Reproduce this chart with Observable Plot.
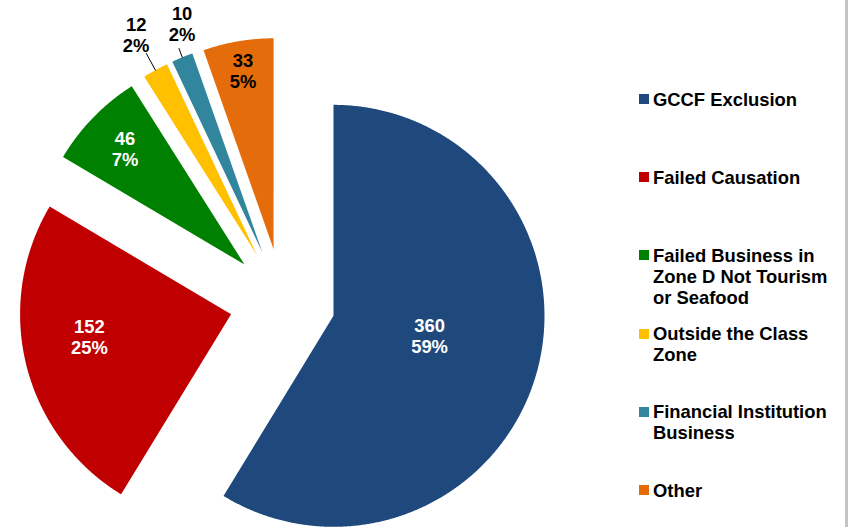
<!DOCTYPE html>
<html>
<head>
<meta charset="utf-8">
<script src="https://cdn.jsdelivr.net/npm/d3@7"></script>
<script src="https://cdn.jsdelivr.net/npm/@observablehq/plot@0.6"></script>
<style>
  html, body { margin: 0; padding: 0; background: #fff; }
  #wrap { position: relative; width: 849px; height: 527px; overflow: hidden; font-family: "Liberation Sans", Arial, sans-serif; }
  #legend { position: absolute; left: 639px; top: 0; }
  .item { position: absolute; left: 0; width: 205px; }
  .sw { position: absolute; left: 0; width: 10px; height: 10px; }
  .lab { position: absolute; left: 14px; width: 190px; font-weight: bold; font-size: 18.4px; line-height: 21px; color: #000; }
  #edge { position: absolute; left: 845px; top: 0; width: 3px; height: 527px; background: #c4c4c4; }
</style>
</head>
<body>
<div id="wrap"><div id="chart"></div><div id="legend"></div><div id="edge"></div></div>
<script>
// ---- data ----
const categories = ["GCCF Exclusion", "Failed Causation", "Failed Business in Zone D Not Tourism or Seafood", "Outside the Class Zone", "Financial Institution Business", "Other"];
const counts = [360, 152, 46, 12, 10, 33];
const percentLabels = ["59%", "25%", "7%", "2%", "2%", "5%"];
const colors = ["#1F497D", "#C00000", "#008000", "#FFC000", "#31859C", "#E46C0A"];
const labelColors = ["#fff", "#fff", "#fff", "#000", "#000", "#000"];

// ---- layout ----
const W = 849, H = 527;
const cx = 282, cy = 301, R = 211;      // pie centre / radius in pixels
const explode = 0.251;                   // offset of each slice (in radii)
const labelDist = [0.465, 0.68, 0.79, 1.19, 1.15, 0.86];
const labelTurn = [-4, 5, 0, 0, 3, 0];   // degrees
const leaderEnd = 1.09;

const arcs = d3.pie().sort(null).value(d => d)(counts);
const slices = arcs.map((a, i) => {
  const mid = (a.startAngle + a.endAngle) / 2;
  const ox = explode * Math.sin(mid), oy = explode * Math.cos(mid);
  const pts = [{x: ox, y: oy}];
  const n = Math.max(8, Math.ceil((a.endAngle - a.startAngle) / 0.005));
  for (let k = 0; k <= n; k++) {
    const t = a.startAngle + (a.endAngle - a.startAngle) * k / n;
    pts.push({x: ox + Math.sin(t), y: oy + Math.cos(t)});
  }
  const la = mid + labelTurn[i] * Math.PI / 180;
  return {
    i, pts, mid, ox, oy,
    label: {x: ox + labelDist[i] * Math.sin(la), y: oy + labelDist[i] * Math.cos(la),
            text: counts[i] + "\n" + percentLabels[i], color: labelColors[i]},
    leader: labelDist[i] > 1 ? [
      {x: ox + Math.sin(mid), y: oy + Math.cos(mid)},
      {x: ox + leaderEnd * Math.sin(mid) * (i === 4 ? 0.955 : 1), y: oy + (i === 4 ? 1.045 : leaderEnd) * Math.cos(mid)}
    ] : null
  };
});

const marks = [];
slices.forEach(s => {
  marks.push(Plot.line(s.pts, {x: "x", y: "y", fill: colors[s.i], stroke: "none", curve: "linear-closed"}));
});
slices.forEach(s => {
  if (s.leader) marks.push(Plot.line(s.leader, {x: "x", y: "y", stroke: "#000", strokeWidth: 1}));
});
marks.push(Plot.text(slices.map(s => s.label), {
  x: "x", y: "y", text: "text", fill: d => d.color,
  fontSize: 18.4, fontWeight: "bold", lineHeight: 1.15,
  textAnchor: "middle", lineAnchor: "middle",
  fontFamily: "Liberation Sans, Arial, sans-serif"
}));

const chart = Plot.plot({
  width: W, height: H, margin: 0,
  style: {background: "transparent", fontFamily: "Liberation Sans, Arial, sans-serif"},
  x: {domain: [(0 - cx) / R, (W - cx) / R], axis: null},
  y: {domain: [(cy - H) / R, cy / R], axis: null},
  marks
});
document.getElementById("chart").appendChild(chart);

// ---- legend ----
const legend = document.getElementById("legend");
const legendTop = 99, legendStep = 78.2;
categories.forEach((c, i) => {
  const item = document.createElement("div");
  item.className = "item";
  item.style.top = (legendTop + i * legendStep - 10.5) + "px";
  const sw = document.createElement("div");
  sw.className = "sw";
  sw.style.background = colors[i];
  sw.style.top = "5.5px";
  const lab = document.createElement("div");
  lab.className = "lab";
  lab.textContent = c;
  item.appendChild(sw);
  item.appendChild(lab);
  legend.appendChild(item);
});
</script>
</body>
</html>
